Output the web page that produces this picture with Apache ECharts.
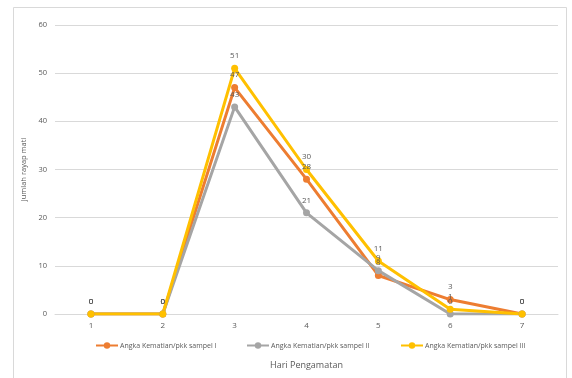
<!DOCTYPE html>
<html>
<head>
<meta charset="utf-8">
<script src="https://cdn.jsdelivr.net/npm/echarts@6/dist/echarts.min.js"></script>
<style>
  html, body { margin: 0; padding: 0; background: #fff; }
  #chart { width: 572px; height: 378px; }
</style>
</head>
<body>
<div id="chart"></div>
<script>
// Observation days
const days = ['1', '2', '3', '4', '5', '6', '7'];
// Termite deaths per sample
const sampel1 = [0, 0, 47, 28, 8, 3, 0];
const sampel2 = [0, 0, 43, 21, 9, 0, 0];
const sampel3 = [0, 0, 51, 30, 11, 1, 0];

const names = [
  'Angka Kematian/pkk sampel I',
  'Angka Kematian/pkk sampel II',
  'Angka Kematian/pkk sampel III'
];
const colors = ['#ED7D31', '#A5A5A5', '#FFC000'];
const FONT = "'Open Sans', 'Liberation Sans', sans-serif";
const TXT = '#595959';

function lineSeries(name, data, color) {
  return {
    name: name,
    type: 'line',
    data: data,
    symbol: 'circle',
    symbolSize: 7,
    lineStyle: { width: 3, color: color },
    itemStyle: { color: color },
    label: {
      show: true,
      position: 'top',
      distance: 5,
      color: TXT,
      fontSize: 8,
      fontFamily: FONT
    },
    emphasis: { disabled: true },
    animation: false
  };
}

function legendAt(left, name) {
  return {
    data: [name],
    left: left,
    top: 337,
    itemWidth: 22,
    itemHeight: 8,
    itemGap: 0,
    textStyle: { color: TXT, fontSize: 7, fontFamily: FONT, padding: [0, 0, 0, -3] }
  };
}

const chart = echarts.init(document.getElementById('chart'), null, { renderer: 'canvas' });
chart.setOption({
  backgroundColor: '#fff',
  color: colors,
  graphic: [{
    type: 'rect',
    shape: { x: 13.5, y: 7.5, width: 553, height: 380 },
    style: { fill: 'none', stroke: '#D9D9D9', lineWidth: 1 },
    silent: true
  }],
  grid: { left: 55, right: 14, top: 25, bottom: 64 },
  legend: [
    legendAt(90, names[0]),
    legendAt(241, names[1]),
    legendAt(395, names[2])
  ],
  xAxis: {
    type: 'category',
    data: days,
    boundaryGap: true,
    name: 'Hari Pengamatan',
    nameLocation: 'middle',
    nameGap: 47,
    nameTextStyle: { color: TXT, fontSize: 9, fontFamily: FONT },
    axisLine: { show: true, lineStyle: { color: '#D9D9D9' } },
    axisTick: { show: false },
    axisLabel: { color: TXT, fontSize: 8, fontFamily: FONT, margin: 8 }
  },
  yAxis: {
    type: 'value',
    min: 0,
    max: 60,
    interval: 10,
    name: 'Jumlah rayap mati',
    nameLocation: 'middle',
    nameGap: 25,
    nameRotate: 90,
    nameTextStyle: { color: TXT, fontSize: 7.5, fontFamily: FONT },
    axisLine: { show: false },
    axisTick: { show: false },
    axisLabel: { color: TXT, fontSize: 7.5, fontFamily: FONT, margin: 8 },
    splitLine: { lineStyle: { color: '#D9D9D9', width: 1 } }
  },
  series: [
    lineSeries(names[0], sampel1, colors[0]),
    lineSeries(names[1], sampel2, colors[1]),
    lineSeries(names[2], sampel3, colors[2])
  ]
});
</script>
</body>
</html>
